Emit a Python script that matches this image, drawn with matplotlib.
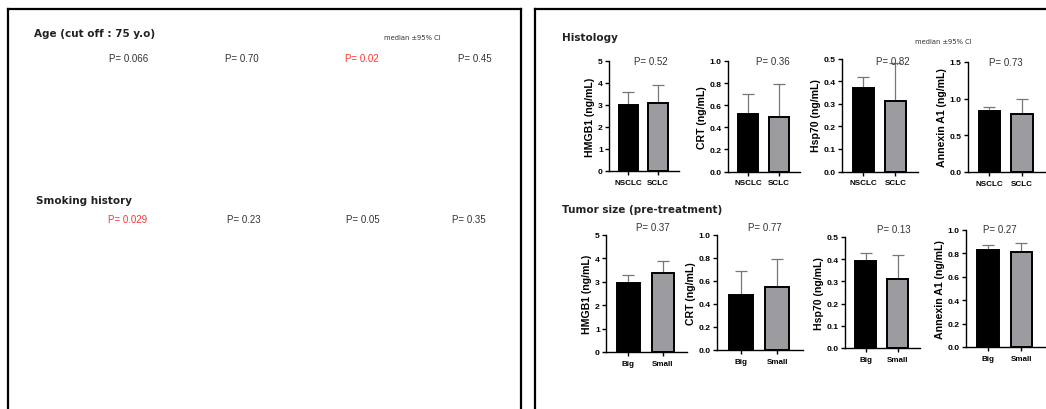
import matplotlib
matplotlib.use("Agg")
import matplotlib.pyplot as plt
from matplotlib.lines import Line2D
import numpy as np

W, H = 1046, 410

# ---------------- data ----------------
markers = ["HMGB1", "CRT", "Hsp70", "Annexin A1"]
hist_groups = ["NSCLC", "SCLC"]
size_groups = ["Big", "Small"]

hist_median = [[3.0, 3.1], [0.52, 0.49], [0.37, 0.31], [0.83, 0.79]]
hist_upper = [[3.6, 3.9], [0.70, 0.79], [0.42, 0.48], [0.88, 0.99]]
hist_p = ["0.52", "0.36", "0.82", "0.73"]

size_median = [[2.95, 3.39], [0.48, 0.55], [0.39, 0.31], [0.83, 0.81]]
size_upper = [[3.31, 3.87], [0.69, 0.79], [0.43, 0.42], [0.875, 0.885]]
size_p = ["0.37", "0.77", "0.13", "0.27"]

age_p = ["0.066", "0.70", "0.02", "0.45"]
age_sig = [False, False, True, False]
smoke_p = ["0.029", "0.23", "0.05", "0.35"]
smoke_sig = [True, False, False, False]

hist_ymax = [5, 1.0, 0.5, 1.5]
hist_ystep = [1, 0.2, 0.1, 0.5]
size_ymax = [5, 1.0, 0.5, 1.0]
size_ystep = [1, 0.2, 0.1, 0.2]

# ---------------- layout (pixels) ----------------
# (left, top, width, bottom) of each axes
hist_boxes = [(609, 62, 70, 172), (728, 62, 72, 172.5), (842, 59.5, 76, 172.5), (968, 63, 77, 173)]
size_boxes = [(606, 236, 81, 353), (717, 236, 86, 351), (845, 238, 75, 349), (966, 231, 79, 348)]
hist_ppos = [(651, 62), (773, 62), (893, 62), (1006, 63)]
size_ppos = [(653, 228), (765, 228), (894, 230), (1000, 230)]

fig = plt.figure(figsize=(W / 100, H / 100), dpi=100)
fig.patch.set_facecolor("white")


def fx(x):
    return x / W


def fy(y):
    return 1 - y / H


BAR_COLORS = ["#000000", "#9c9ca0"]
LABEL_FONT = ["Liberation Sans", "DejaVu Sans"]
TITLE_FONT = ["DejaVu Sans"]


def draw_bars(box, groups, med, upper, ymax, ystep, marker):
    l, t, w, b = box
    ax = fig.add_axes([fx(l), fy(b), w / W, (b - t) / H])
    x = np.arange(len(groups))
    err = [np.zeros(len(groups)), np.array(upper) - np.array(med)]
    ax.bar(x, med, width=0.65, color=BAR_COLORS, edgecolor="black", linewidth=1.4, zorder=2)
    ax.errorbar(x, med, yerr=err, fmt="none", ecolor="#777777", elinewidth=0.9,
                capsize=4.5, capthick=0.9, zorder=1)
    ax.set_xlim(-0.65, 1.7)
    ax.set_ylim(0, ymax)
    ticks = np.arange(0, ymax + ystep / 2, ystep)
    ax.set_yticks(ticks)
    if ystep >= 1:
        ax.set_yticklabels([f"{v:.0f}" for v in ticks])
    else:
        ax.set_yticklabels([f"{v:.1f}" for v in ticks])
    ax.set_xticks(x)
    ax.set_xticklabels(groups)
    for s in ["top", "right"]:
        ax.spines[s].set_visible(False)
    for s in ["left", "bottom"]:
        ax.spines[s].set_linewidth(1.0)
    ax.tick_params(axis="both", length=3, width=1.0, pad=1.5)
    ax.tick_params(axis="y", labelsize=6.1)
    ax.tick_params(axis="x", labelsize=5.8, pad=2.5)
    for lab in ax.get_yticklabels() + ax.get_xticklabels():
        lab.set_fontweight("bold")
        lab.set_family(LABEL_FONT)
    ax.set_ylabel(f"{marker} (ng/mL)", fontsize=7.6, fontweight="bold",
                  family=LABEL_FONT, labelpad=2)
    return ax


for i, m in enumerate(markers):
    draw_bars(hist_boxes[i], hist_groups, hist_median[i], hist_upper[i],
              hist_ymax[i], hist_ystep[i], m)
    draw_bars(size_boxes[i], size_groups, size_median[i], size_upper[i],
              size_ymax[i], size_ystep[i], m)
    px, py = hist_ppos[i]
    fig.text(fx(px), fy(py), f"P= {hist_p[i]}", ha="center", va="center",
             fontsize=7, color="#333333", family=LABEL_FONT)
    px, py = size_ppos[i]
    fig.text(fx(px), fy(py), f"P= {size_p[i]}", ha="center", va="center",
             fontsize=7, color="#333333", family=LABEL_FONT)

# ---------------- section titles ----------------
fig.text(fx(562), fy(38), "Histology", ha="left", va="center", fontsize=7.5,
         fontweight="bold", family=TITLE_FONT, color="#222222")
fig.text(fx(562), fy(210), "Tumor size (pre-treatment)", ha="left", va="center",
         fontsize=7.5, fontweight="bold", family=TITLE_FONT, color="#222222")
fig.text(fx(943), fy(42), "median ±95% CI", ha="center", va="center", fontsize=4.9,
         family=TITLE_FONT, color="#333333")

# ---------------- left panel ----------------
fig.text(fx(34), fy(34), "Age (cut off : 75 y.o)", ha="left", va="center", fontsize=7.5,
         fontweight="bold", family=TITLE_FONT, color="#222222")
fig.text(fx(412), fy(38), "median ±95% CI", ha="center", va="center", fontsize=4.9,
         family=TITLE_FONT, color="#333333")
fig.text(fx(36), fy(201), "Smoking history", ha="left", va="center", fontsize=7.5,
         fontweight="bold", family=TITLE_FONT, color="#222222")

age_x = [129, 242, 362, 475]
smoke_x = [128, 244, 363, 469]
for i in range(4):
    fig.text(fx(age_x[i]), fy(59), f"P= {age_p[i]}", ha="center", va="center",
             fontsize=7, color="#ff3333" if age_sig[i] else "#333333", family=LABEL_FONT)
    fig.text(fx(smoke_x[i]), fy(220), f"P= {smoke_p[i]}", ha="center", va="center",
             fontsize=7, color="#ff3333" if smoke_sig[i] else "#333333", family=LABEL_FONT)

# ---------------- panel frames ----------------
def frame_line(xs, ys):
    fig.add_artist(Line2D([fx(v) for v in xs], [fy(v) for v in ys],
                          color="black", linewidth=1.6, solid_capstyle="projecting"))


frame_line([8, 8], [10, 412])
frame_line([8, 521], [10, 10])
frame_line([521, 521], [10, 412])
frame_line([535, 535], [10, 412])
frame_line([535, 1050], [10, 10])

fig.savefig("out.png", dpi=100, facecolor="white")
